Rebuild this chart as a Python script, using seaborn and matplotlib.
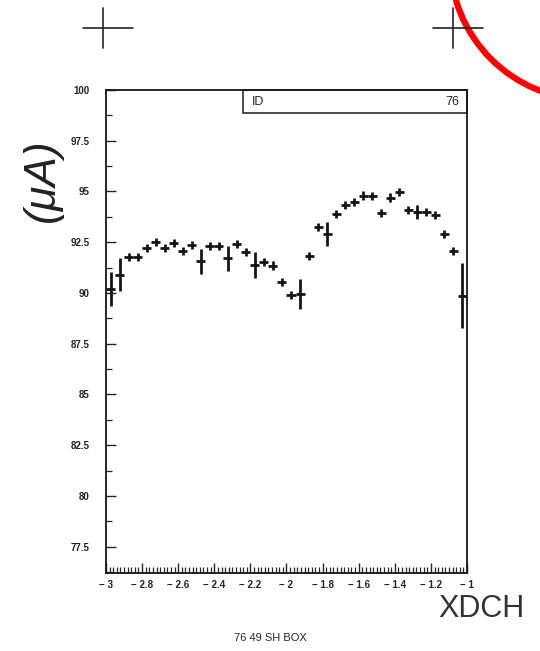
import numpy as np
import matplotlib
matplotlib.use("Agg")
import matplotlib.pyplot as plt
import seaborn as sns
from matplotlib.patches import Rectangle, Ellipse
from matplotlib.lines import Line2D

# histogram 76 : 40 bins from -3 to -1
bin_lo = -3.0
bin_w = 0.05
means = [90.2, 90.9, 91.76, 91.76, 92.2, 92.5, 92.2, 92.45, 92.05, 92.36,
         91.55, 92.3, 92.3, 91.7, 92.41, 92.0, 91.38, 91.54, 91.35, 90.53,
         89.9, 89.95, 91.8, 93.24, 92.9, 93.9, 94.33, 94.47, 94.8, 94.76,
         93.93, 94.7, 94.99, 94.1, 94.0, 93.97, 93.84, 92.9, 92.08, 89.87]
errs = [0.85, 0.8, 0.2, 0.2, 0.2, 0.2, 0.2, 0.2, 0.2, 0.2,
        0.6, 0.2, 0.2, 0.6, 0.2, 0.2, 0.65, 0.2, 0.2, 0.2,
        0.2, 0.72, 0.2, 0.2, 0.6, 0.2, 0.2, 0.2, 0.2, 0.2,
        0.2, 0.2, 0.2, 0.2, 0.35, 0.2, 0.2, 0.2, 0.2, 1.6]
yticks = [77.5, 80, 82.5, 85, 87.5, 90, 92.5, 95, 97.5, 100]
xticks = [-3, -2.8, -2.6, -2.4, -2.2, -2, -1.8, -1.6, -1.4, -1.2, -1]

sns.set_style("ticks")
plt.rcParams['font.family'] = ['Liberation Sans', 'DejaVu Sans']

x = bin_lo + bin_w * (np.arange(len(means)) + 0.5)

fig = plt.figure(figsize=(5.4, 6.51), dpi=100)
ax = fig.add_axes([0.1963, 0.1198, 0.6685, 0.742])

ax.errorbar(x, means, yerr=errs, xerr=bin_w / 2, fmt='none',
            ecolor='#151515', elinewidth=2.0, capsize=0)

ax.set_xlim(-3, -1)
ax.set_ylim(76.2, 100)
ax.set_yticks(yticks)
ax.set_yticklabels([('%g' % v) for v in yticks], fontweight='bold')
ax.set_yticks(np.arange(76.25, 100, 1.25), minor=True)
ax.set_xticks(xticks)
ax.set_xticklabels([('%g' % v).replace('-', '\u2212 ') for v in xticks],
                   fontweight='bold')
ax.set_xticks(np.arange(-3, -0.999, 0.02), minor=True)
ax.tick_params(axis='both', which='major', direction='in', length=7,
               width=1, labelsize=7, labelcolor='#222222')
ax.tick_params(axis='both', which='minor', direction='in', length=4.5, width=0.9)
ax.tick_params(axis='y', pad=12)
ax.tick_params(axis='x', pad=5)
for s in ax.spines.values():
    s.set_linewidth(1.3)
    s.set_color('#151515')

# ID box
ax.add_patch(Rectangle((0.3795, 0.952), 0.6205, 0.048, transform=ax.transAxes,
                       fill=False, lw=1.1, ec='#1a1a1a', clip_on=False))
ax.text(0.405, 0.976, 'ID', transform=ax.transAxes, fontsize=9,
        va='center', ha='left')
ax.text(0.98, 0.976, '76', transform=ax.transAxes, fontsize=9,
        va='center', ha='right')

# handwritten labels
fig.text(42 / 540, 1 - 180 / 651, '(\u03bcA)', rotation=90, fontsize=32,
         style='italic', ha='center', va='center', color='#222222')
fig.text(481 / 540, 1 - 609 / 651, 'XDCH', fontsize=22, ha='center',
         va='center', color='#333333')
fig.text(270 / 540, 1 - 638 / 651, '76 49 SH BOX', fontsize=8,
         ha='center', va='center')

# registration marks
W, H = 540.0, 651.0
for cx, cy in [(103, 28), (453, 28)]:
    fig.add_artist(Line2D([(cx - 20) / W, (cx + 30) / W], [1 - cy / H] * 2,
                          color='#222222', lw=1.2))
    fig.add_artist(Line2D([cx / W] * 2, [1 - (cy - 20) / H, 1 - (cy + 20) / H],
                          color='#222222', lw=1.2))

# red pen arc
fig.add_artist(Ellipse((590 / W, 1 + 40 / H), 280 / W, 280 / H,
                       transform=fig.transFigure, fill=False, ec='red', lw=4.5))

fig.savefig('out.png', dpi=100)
